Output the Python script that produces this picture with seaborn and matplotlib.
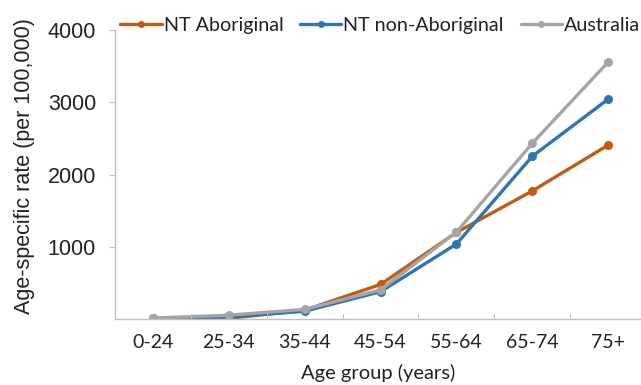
import matplotlib
matplotlib.use("Agg")
import matplotlib.pyplot as plt
import seaborn as sns
import pandas as pd
from matplotlib.lines import Line2D

age_groups = ["0-24", "25-34", "35-44", "45-54", "55-64", "65-74", "75+"]
nt_aboriginal = [5, 10, 125, 480, 1200, 1775, 2410]
nt_non_aboriginal = [10, 30, 110, 380, 1040, 2255, 3045]
australia = [15, 55, 135, 405, 1205, 2435, 3560]
series_names = ["NT Aboriginal", "NT non-Aboriginal", "Australia"]
colors = ["#C55A11", "#2E75B6", "#A5A5A5"]

df = pd.DataFrame({
    "age": age_groups * 3,
    "x": list(range(len(age_groups))) * 3,
    "rate": nt_aboriginal + nt_non_aboriginal + australia,
    "series": [series_names[0]] * 7 + [series_names[1]] * 7 + [series_names[2]] * 7,
})

sns.set_style("white")
plt.rcParams["font.family"] = ["Lato", "DejaVu Sans"]
arial = ["Liberation Sans", "DejaVu Sans"]

fig = plt.figure(figsize=(6.41, 3.85), dpi=100)
ax = fig.add_axes([0.179, 0.171, 0.821, 0.751])

sns.lineplot(data=df, x="x", y="rate", hue="series", palette=colors,
             hue_order=series_names, marker="o", markersize=6.5,
             markeredgewidth=0, linewidth=2.4, ax=ax, legend=False)

ax.set_xlim(-0.5, 6.43)
ax.set_ylim(0, 4000)
ax.set_yticks([1000, 2000, 3000, 4000])
ax.set_yticklabels(["1000", "2000", "3000", "4000"], fontsize=15.5, color="#222222", family=arial)
ax.set_xticks(range(len(age_groups)))
ax.set_xticklabels(age_groups, fontsize=14, color="#222222")
ax.tick_params(axis="x", length=0, pad=11)
ax.tick_params(axis="y", length=4, width=0.8, color="#BFBFBF", direction="out", pad=9.5, left=True)
for b in [0.5, 1.5, 2.5, 3.5, 4.5, 5.5]:
    ax.plot([b, b], [0, 65], color="#BFBFBF", lw=0.8, clip_on=False)

for s in ["top", "right"]:
    ax.spines[s].set_visible(False)
for s in ["left", "bottom"]:
    ax.spines[s].set_color("#BFBFBF")
    ax.spines[s].set_linewidth(1.0)

ax.set_xlabel("Age group (years)", fontsize=14.5, color="#222222", labelpad=9)
ax.set_ylabel("Age-specific rate (per 100,000)", fontsize=15.5, color="#222222",
              family=arial)
ax.yaxis.set_label_coords(-0.152, 0.53)

handles = [Line2D([0], [0], color=c, lw=2.4, marker="o", markersize=5, markeredgewidth=0) for c in colors]
fig.legend(handles, series_names, loc="center", bbox_to_anchor=(0.593, 0.933), ncol=3,
           frameon=False, fontsize=14.2, handlelength=2.1, handletextpad=0.1,
           columnspacing=0.85, labelcolor="#222222", borderpad=0, borderaxespad=0)

fig.savefig("out.png", dpi=100)
